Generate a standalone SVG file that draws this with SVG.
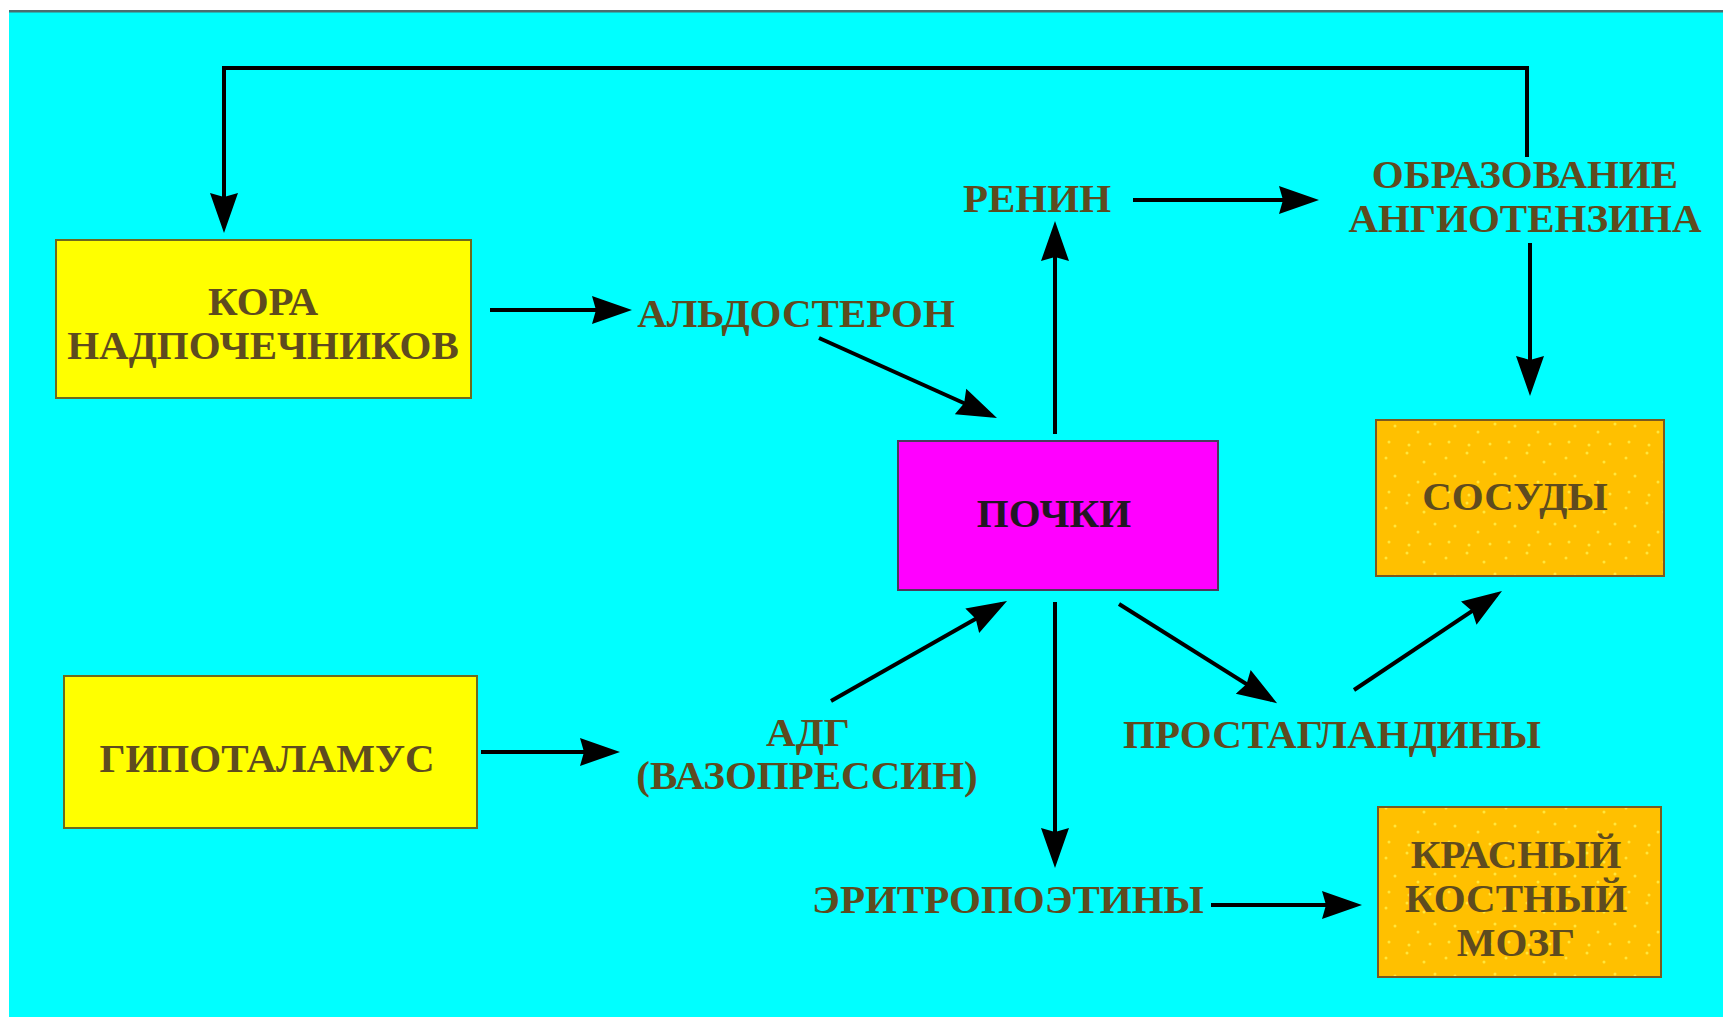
<svg xmlns="http://www.w3.org/2000/svg" width="1723" height="1017" viewBox="0 0 1723 1017">
<defs>
<marker id="ah" markerUnits="userSpaceOnUse" markerWidth="42" markerHeight="30" refX="34" refY="15" orient="auto" viewBox="0 0 42 30">
<path d="M0,1 L40,15 L0,29 L4,15 Z" fill="#000"/>
</marker>
<pattern id="dots" patternUnits="userSpaceOnUse" width="60" height="50">
<rect width="60" height="50" fill="#ffc000"/>
<circle cx="6" cy="8" r="1.5" fill="#ffe63c"/>
<circle cx="27" cy="3" r="1.5" fill="#ffe63c"/>
<circle cx="44" cy="12" r="1.5" fill="#ffe63c"/>
<circle cx="15" cy="26" r="1.5" fill="#ffe63c"/>
<circle cx="38" cy="32" r="1.5" fill="#ffe63c"/>
<circle cx="55" cy="24" r="1.5" fill="#ffe63c"/>
<circle cx="9" cy="42" r="1.5" fill="#ffe63c"/>
<circle cx="29" cy="45" r="1.5" fill="#ffe63c"/>
<circle cx="50" cy="44" r="1.5" fill="#ffe63c"/>
</pattern>
</defs>
<style>
.t{font-family:"Liberation Serif","Times New Roman",serif;font-weight:bold;font-size:41px;fill:#5e4b1f;text-anchor:middle}
.k{fill:#221622}
.yb{fill:#ffff00;stroke:#6e6a1e;stroke-width:2}
.ob{fill:url(#dots);stroke:#7a5a20;stroke-width:2}
.pb{fill:#ff00ff;stroke:#4a3a5a;stroke-width:2}
.c{fill:none;stroke:#000;stroke-width:4;marker-end:url(#ah)}
</style>
<rect x="0" y="0" width="1723" height="1017" fill="#ffffff"/>
<rect x="9" y="12" width="1714" height="1005" fill="#00ffff"/>
<rect x="9" y="10" width="1714" height="2.5" fill="#4a6e70"/>

<g id="connectors">
<path class="c" d="M1527,157 L1527,68 L224,68 L224,227"/>
<path class="c" d="M490,310 L626,310"/>
<path class="c" d="M819,338 L991.5,415.5"/>
<path class="c" d="M1055,434 L1055,227"/>
<path class="c" d="M1133,200 L1313,200"/>
<path class="c" d="M1530,243 L1530,390"/>
<path class="c" d="M1055,602 L1055,862"/>
<path class="c" d="M1119,604 L1272,700"/>
<path class="c" d="M1354,690 L1497,594.3"/>
<path class="c" d="M1211,905 L1356,905"/>
<path class="c" d="M481,752 L614,752"/>
<path class="c" d="M831,701 L1001.8,604"/>
</g>

<g id="kora">
<rect class="yb" x="56" y="240" width="415" height="158"/>
<text class="t" x="263" y="315">КОРА</text>
<text class="t" x="263" y="359">НАДПОЧЕЧНИКОВ</text>
</g>
<g id="gipotalamus">
<rect class="yb" x="64" y="676" width="413" height="152"/>
<text class="t" x="267" y="772">ГИПОТАЛАМУС</text>
</g>
<g id="pochki">
<rect class="pb" x="898" y="441" width="320" height="149"/>
<text class="t k" x="1054" y="527">ПОЧКИ</text>
</g>
<g id="sosudy">
<rect class="ob" x="1376" y="420" width="288" height="156"/>
<text class="t" x="1515" y="510">СОСУДЫ</text>
</g>
<g id="kostny">
<rect class="ob" x="1378" y="807" width="283" height="170"/>
<text class="t" x="1516" y="868">КРАСНЫЙ</text>
<text class="t" x="1516" y="912">КОСТНЫЙ</text>
<text class="t" x="1516" y="956">МОЗГ</text>
</g>
<g id="aldosteron">
<text class="t" x="796" y="327">АЛЬДОСТЕРОН</text>
</g>
<g id="renin">
<text class="t" x="1037" y="212">РЕНИН</text>
</g>
<g id="angiotenzin">
<text class="t" x="1525" y="188">ОБРАЗОВАНИЕ</text>
<text class="t" x="1525" y="232">АНГИОТЕНЗИНА</text>
</g>
<g id="prostaglandiny">
<text class="t" x="1332" y="748">ПРОСТАГЛАНДИНЫ</text>
</g>
<g id="adg">
<text class="t" x="808" y="746">АДГ</text>
<text class="t" x="807" y="789">(ВАЗОПРЕССИН)</text>
</g>
<g id="eritropoetiny">
<text class="t" x="1008" y="913">ЭРИТРОПОЭТИНЫ</text>
</g>
</svg>
